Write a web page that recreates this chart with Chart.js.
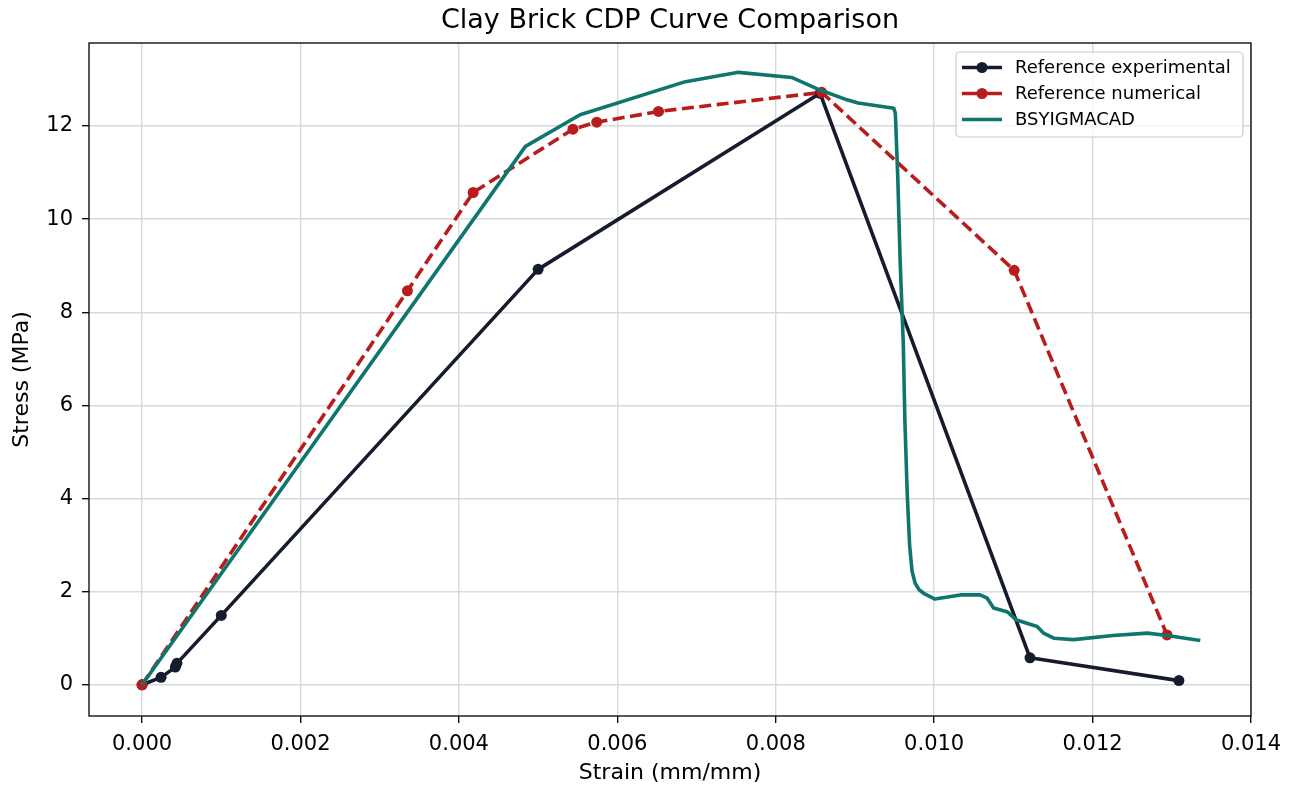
<!DOCTYPE html>
<html>
<head>
<meta charset="utf-8">
<title>Clay Brick CDP Curve Comparison</title>
<script src="https://cdn.jsdelivr.net/npm/chart.js@4.4.1/dist/chart.umd.min.js"></script>
<style>
  html, body { margin: 0; padding: 0; background: #ffffff; }
</style>
</head>
<body>
<canvas id="curveChart" width="1299" height="792"></canvas>
<script>
// Axis ticks
const xTicks = [0, 0.002, 0.004, 0.006, 0.008, 0.010, 0.012, 0.014];
const yTicks = [0, 2, 4, 6, 8, 10, 12];

// Reference experimental
const expStrain = [0, 0.00024, 0.00042, 0.00044, 0.001, 0.005, 0.00856, 0.01121, 0.01309];
const expStress = [0, 0.16, 0.38, 0.46, 1.49, 8.92, 12.70, 0.58, 0.09];

// Reference numerical
const numStrain = [0, 0.00335, 0.00418, 0.00544, 0.00574, 0.00652, 0.00858, 0.01101, 0.01294];
const numStress = [0, 8.46, 10.57, 11.93, 12.08, 12.31, 12.72, 8.90, 1.07];

// BSYIGMACAD
const bsyStrain = [0, 0.00484, 0.00553, 0.00686, 0.00753, 0.00820, 0.00856, 0.00890,
  0.00904, 0.00949, 0.00951, 0.00954, 0.00957, 0.00961, 0.00963, 0.00966, 0.00969,
  0.00972, 0.00976, 0.00981, 0.00988, 0.01001, 0.01033, 0.01058, 0.01067, 0.01075,
  0.01092, 0.01104, 0.01130, 0.01138, 0.01151, 0.01176, 0.01226, 0.01269, 0.01294, 0.01336];
const bsyStress = [0, 11.56, 12.24, 12.95, 13.15, 13.04, 12.77, 12.56,
  12.49, 12.38, 12.27, 10.92, 9.13, 7.34, 5.69, 4.10, 3.00,
  2.45, 2.18, 2.04, 1.95, 1.84, 1.93, 1.93, 1.86, 1.65,
  1.57, 1.39, 1.25, 1.11, 1.00, 0.97, 1.06, 1.11, 1.06, 0.95];

const toPoints = (xs, ys) => xs.map((x, i) => ({ x: x, y: ys[i] }));

const FONT = "'DejaVu Sans', sans-serif";

// Frame around the plot area (all four spines)
const framePlugin = {
  id: "frame",
  afterDatasetsDraw(chart) {
    const { ctx, chartArea: a } = chart;
    ctx.save();
    ctx.strokeStyle = "#000000";
    ctx.lineWidth = 1.3;
    ctx.strokeRect(a.left, a.top, a.right - a.left, a.bottom - a.top);
    ctx.restore();
  },
};

// Title centred over the plot area
const titlePlugin = {
  id: "plotTitle",
  afterDraw(chart) {
    const { ctx, chartArea: a } = chart;
    ctx.save();
    ctx.fillStyle = "#000000";
    ctx.font = "27px " + FONT;
    ctx.textAlign = "center";
    ctx.textBaseline = "middle";
    ctx.fillText("Clay Brick CDP Curve Comparison", (a.left + a.right) / 2, 21);
    ctx.restore();
  },
};

// Legend box in the upper right corner
const legendPlugin = {
  id: "boxLegend",
  afterDraw(chart) {
    const { ctx, chartArea: a } = chart;
    const sets = chart.data.datasets;
    const boxW = 287, boxH = 85;
    const bx = a.right - 8 - boxW, by = a.top + 9;
    ctx.save();
    ctx.beginPath();
    ctx.roundRect(bx, by, boxW, boxH, 4);
    ctx.fillStyle = "rgba(255,255,255,0.8)";
    ctx.fill();
    ctx.strokeStyle = "#cccccc";
    ctx.lineWidth = 1.2;
    ctx.stroke();
    ctx.font = "18px " + FONT;
    ctx.textBaseline = "middle";
    ctx.textAlign = "left";
    sets.forEach((ds, i) => {
      const y = by + 15.5 + i * 26;
      ctx.beginPath();
      ctx.setLineDash([]);
      ctx.strokeStyle = ds.borderColor;
      ctx.lineWidth = ds.borderWidth;
      ctx.moveTo(bx + 6, y);
      ctx.lineTo(bx + 46, y);
      ctx.stroke();
      if (ds.pointRadius > 0) {
        ctx.beginPath();
        ctx.arc(bx + 26, y, ds.pointRadius, 0, Math.PI * 2);
        ctx.fillStyle = ds.pointBackgroundColor;
        ctx.fill();
      }
      ctx.fillStyle = "#000000";
      ctx.fillText(ds.label, bx + 59, y + 1);
    });
    ctx.restore();
  },
};

const ctx = document.getElementById("curveChart").getContext("2d");
const curveChart = new Chart(ctx, {
  type: "scatter",
  data: {
    datasets: [
      {
        label: "Reference experimental",
        data: toPoints(expStrain, expStress),
        showLine: true,
        borderColor: "#161c2d",
        backgroundColor: "#161c2d",
        pointBackgroundColor: "#161c2d",
        pointBorderColor: "#161c2d",
        borderWidth: 3.6,
        pointRadius: 5.5,
        pointBorderWidth: 0,
        borderJoinStyle: "round",
        order: 2,
      },
      {
        label: "Reference numerical",
        data: toPoints(numStrain, numStress),
        showLine: true,
        borderColor: "#b91c1c",
        backgroundColor: "#b91c1c",
        pointBackgroundColor: "#b91c1c",
        pointBorderColor: "#b91c1c",
        borderWidth: 3.6,
        borderDash: [12, 5.5],
        pointRadius: 5.5,
        pointBorderWidth: 0,
        borderJoinStyle: "round",
        order: 1,
      },
      {
        label: "BSYIGMACAD",
        data: toPoints(bsyStrain, bsyStress),
        showLine: true,
        borderColor: "#0f766e",
        backgroundColor: "#0f766e",
        borderWidth: 3.6,
        pointRadius: 0,
        borderJoinStyle: "round",
        order: 0,
      },
    ],
  },
  options: {
    responsive: false,
    animation: false,
    layout: {
      padding: { top: 43, right: 48, bottom: 0, left: 0 },
    },
    plugins: {
      legend: { display: false },
      title: { display: false },
      tooltip: { enabled: false },
    },
    scales: {
      x: {
        type: "linear",
        min: -0.00067,
        max: 0.014,
        afterBuildTicks: (axis) => {
          axis.ticks = xTicks.map((v) => ({ value: v }));
        },
        afterFit: (axis) => {
          axis.height = 76;
        },
        ticks: {
          autoSkip: false,
          maxRotation: 0,
          padding: 9,
          color: "#000000",
          font: { family: FONT, size: 21 },
          callback: (v) => Number(v).toFixed(3),
        },
        grid: {
          color: "#d5d9e2",
          lineWidth: 1.4,
          tickColor: "#000000",
          tickWidth: 1.3,
          tickLength: 7,
        },
        border: { display: false },
        title: {
          display: true,
          text: "Strain (mm/mm)",
          color: "#000000",
          font: { family: FONT, size: 22 },
          padding: { top: 0, bottom: 6 },
        },
      },
      y: {
        type: "linear",
        min: -0.67,
        max: 13.78,
        afterBuildTicks: (axis) => {
          axis.ticks = yTicks.map((v) => ({ value: v }));
        },
        afterFit: (axis) => {
          axis.width = 89;
        },
        ticks: {
          autoSkip: false,
          padding: 9,
          color: "#000000",
          font: { family: FONT, size: 21 },
          callback: (v) => Number(v).toFixed(0),
        },
        grid: {
          color: "#d5d9e2",
          lineWidth: 1.4,
          tickColor: "#000000",
          tickWidth: 1.3,
          tickLength: 7,
        },
        border: { display: false },
        title: {
          display: true,
          text: "Stress (MPa)",
          color: "#000000",
          font: { family: FONT, size: 22 },
          padding: { top: 9, bottom: 0 },
        },
      },
    },
  },
  plugins: [framePlugin, titlePlugin, legendPlugin],
});
</script>
</body>
</html>
